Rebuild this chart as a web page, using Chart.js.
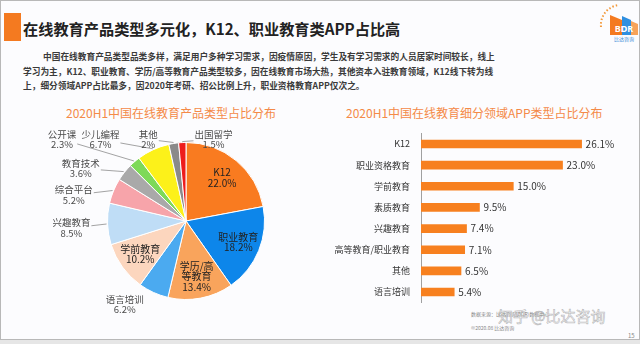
<!DOCTYPE html>
<html lang="zh">
  <head>
    <meta charset="utf-8">
    <title>在线教育产品类型</title>
    <script src="https://cdn.jsdelivr.net/npm/chart.js"></script>
    <style>
      body { margin: 0; width: 640px; height: 344px; background: #e6e6e6; overflow: hidden;
             font-family: 'Noto Sans CJK SC', 'Noto Sans', sans-serif; }
      .slide { position: absolute; left: 0; top: 0; width: 638px; height: 338px;
               background: #fcfcfe; border: 1px solid #b8b8b8; }
      .abs { position: absolute; white-space: nowrap; }
      .mark { left: 3px; top: 12px; width: 17px; height: 28px; background: #f47a20; }
      .title { left: 22px; top: 16px; font-size: 15.2px; font-weight: bold; color: #222; line-height: 22px; }
      .para { font-size: 8.7px; font-weight: bold; color: #3a3a3a; line-height: 14.5px; }
      .para div { text-align: justify; text-align-last: justify; }
      .sub { font-size: 12px; color: #f48a48; line-height: 14px; }
      .foot { font-size: 5px; color: #888; }
      .wm { font-size: 15px; color: rgba(255,255,255,0.6); -webkit-text-stroke: 0.6px rgba(120,120,120,0.55); }
    </style>
  </head>
  <body>
    <div class="slide">
      <div class="abs mark"></div>
      <div class="abs title">在线教育产品类型多元化，K12、职业教育类APP占比高</div>
      <div class="abs para" style="left:22px; top:49px; width:470px;">
        <div style="padding-left:20px;">中国在线教育产品类型品类多样，满足用户多种学习需求，因疫情原因，学生及有学习需求的人员居家时间较长，线上</div>
        <div>学习为主，K12、职业教育、学历/高等教育产品类型较多，因在线教育市场大热，其他资本入驻教育领域，K12线下转为线</div>
        <div style="text-align-last:left;">上，细分领域APP占比最多，因2020年考研、招公比例上升，职业资格教育APP仅次之。</div>
      </div>
      <div class="abs sub" style="left:65px; top:105px;">2020H1中国在线教育产品类型占比分布</div>
      <div class="abs sub" style="left:345px; top:105px;">2020H1中国在线教育细分领域APP类型占比分布</div>

      <svg class="abs" style="left:596px; top:0px;" width="44" height="46">
        <path d="M4 26 A 20 20 0 0 1 22 4" fill="none" stroke="#f39a3c" stroke-width="2" stroke-dasharray="1.5 2"/>
        <polygon points="13,14 25,19 25,34 13,34" fill="#f47a20"/>
        <polygon points="25,15 34,19 34,34 25,34" fill="#2f8fe0"/>
        <polygon points="34,20 41,23 41,34 34,34" fill="#f7a35a"/>
        <text x="27" y="31" font-size="9" font-weight="bold" fill="#fff" text-anchor="middle" font-family="Noto Sans">BDR</text>
        <text x="27" y="40" font-size="5" fill="#3a8ad8" text-anchor="middle">比达咨询</text>
      </svg>

      <div class="abs foot" style="left:470px; top:309px;">数据来源：比达咨询(BDR)数据中心</div>
      <div class="abs wm" style="left:497px; top:304px;">知乎 @比达咨询</div>
      <div class="abs foot" style="left:470px; top:323px;">©2020.08 比达咨询</div>
      <div class="abs foot" style="left:627px; top:330px; font-size:6px;">15</div>

      <div class="abs" style="left:0px; top:120px; width:320px; height:210px;"><canvas id="pieChart"></canvas></div>
      <div class="abs" style="left:320px; top:116px; width:300px; height:202px;"><canvas id="barChart"></canvas></div>
    </div>

    <script>
      // 左图：产品类型占比（%），从12点方向顺时针
      const pieLabels = ['K12', '职业教育', ['学历/高', '等教育'], '语言培训', '学前教育', '兴趣教育',
                         '综合平台', '教育技术', '公开课', '少儿编程', '其他', '出国留学'];
      const pieValues = [22.0, 18.2, 13.4, 6.2, 10.2, 8.5, 5.2, 3.6, 2.3, 6.7, 2, 1.5];
      const pieColors = ['#f97b20', '#0d86ea', '#f9a45c', '#4baaf0', '#fcd6be', '#bfddf6',
                         '#f7a4aa', '#a9a9a9', '#7ed958', '#fcf11a', '#8a8a8a', '#ee1c1c'];

      // 右图：细分领域APP类型占比（%）
      const barLabels = ['K12', '职业资格教育', '学前教育', '素质教育', '兴趣教育', '高等教育/职业教育', '其他', '语言培训'];
      const barValues = [26.1, 23.0, 15.0, 9.5, 7.4, 7.1, 6.5, 5.4];

      Chart.defaults.font.family = "'Noto Sans CJK SC', 'Noto Sans', sans-serif";
      Chart.defaults.animation = false;

      function fmt(v) {
        return (Number.isInteger(v) && v < 10 ? String(v) : v.toFixed(1)) + '%';
      }

      // 饼图外侧标签位置（相对圆心，单位为半径）
      const outsidePos = {
        3: {dx: -0.78, dy: 1.06, leader: false},
        5: {dx: -1.46, dy: 0.09},
        6: {dx: -1.43, dy: -0.33},
        7: {dx: -1.34, dy: -0.67},
        8: {dx: -1.58, dy: -1.04},
        9: {dx: -1.09, dy: -1.04},
        10: {dx: -0.48, dy: -1.04},
        11: {dx: 0.35, dy: -1.04}
      };

      const pieLabelPlugin = {
        id: 'pieLabels',
        afterDatasetsDraw(chart) {
          const ctx = chart.ctx;
          const meta = chart.getDatasetMeta(0);
          ctx.save();
          ctx.textAlign = 'center';
          ctx.textBaseline = 'middle';
          meta.data.forEach(function(arc, i) {
            const p = arc.getProps(['x', 'y', 'startAngle', 'endAngle', 'outerRadius']);
            const mid = (p.startAngle + p.endAngle) / 2;
            const R = p.outerRadius;
            const name = pieLabels[i];
            const lines = (Array.isArray(name) ? name : [name]).concat([fmt(pieValues[i])]);
            const lh = 10.5;
            let cx, cy;
            if (pieValues[i] >= 10) {
              cx = p.x + Math.cos(mid) * R * 0.72;
              cy = p.y + Math.sin(mid) * R * 0.72;
              ctx.font = '10px ' + Chart.defaults.font.family;
              ctx.fillStyle = '#222';
            } else {
              const o = outsidePos[i];
              cx = p.x + o.dx * R;
              cy = p.y + o.dy * R;
              ctx.font = '9.5px ' + Chart.defaults.font.family;
              ctx.fillStyle = '#4a4a4a';
              if (o.leader !== false) {
                let w = 0;
                lines.forEach(function(t) { w = Math.max(w, ctx.measureText(t).width); });
                const hw = w / 2 + 1, hh = lines.length * lh / 2;
                const ex = p.x + Math.cos(mid) * (R + 1);
                const ey = p.y + Math.sin(mid) * (R + 1);
                const vx = cx - ex, vy = cy - ey;
                // 线段与标签框的交点
                let t = 1;
                if (Math.abs(vx) > 0.001) t = Math.min(t, (Math.abs(vx) - hw) / Math.abs(vx));
                if (Math.abs(vy) > 0.001) t = Math.max(Math.min(1, (Math.abs(vy) - hh) / Math.abs(vy)), t);
                t = Math.max(0, Math.min(1, t));
                ctx.strokeStyle = '#8c8c8c';
                ctx.lineWidth = 0.8;
                ctx.beginPath();
                ctx.moveTo(ex, ey);
                ctx.lineTo(ex + vx * t, ey + vy * t);
                ctx.stroke();
              }
            }
            const y0 = cy - (lines.length - 1) * lh / 2;
            lines.forEach(function(t, k) { ctx.fillText(t, cx, y0 + k * lh); });
          });
          ctx.restore();
        }
      };

      new Chart(document.getElementById('pieChart'), {
        type: 'pie',
        data: {
          labels: pieLabels,
          datasets: [{
            data: pieValues,
            backgroundColor: pieColors,
            borderColor: '#ffffff',
            borderWidth: 1,
            hoverOffset: 0
          }]
        },
        options: {
          responsive: true,
          maintainAspectRatio: false,
          layout: { padding: { left: 106, right: 56, top: 21, bottom: 31 } },
          plugins: { legend: { display: false }, tooltip: { enabled: false } }
        },
        plugins: [pieLabelPlugin]
      });

      const barValuePlugin = {
        id: 'barValues',
        afterDatasetsDraw(chart) {
          const ctx = chart.ctx;
          ctx.save();
          ctx.font = '10px ' + Chart.defaults.font.family;
          ctx.fillStyle = '#333';
          ctx.textAlign = 'left';
          ctx.textBaseline = 'middle';
          chart.getDatasetMeta(0).data.forEach(function(bar, i) {
            ctx.fillText(fmt(barValues[i]), bar.x + 4, bar.y);
          });
          ctx.restore();
        }
      };

      new Chart(document.getElementById('barChart'), {
        type: 'bar',
        data: {
          labels: barLabels,
          datasets: [{
            data: barValues,
            backgroundColor: '#f7801f',
            barThickness: 8
          }]
        },
        options: {
          indexAxis: 'y',
          responsive: true,
          maintainAspectRatio: false,
          layout: { padding: 0 },
          scales: {
            x: { display: false, min: 0, max: 32.5 },
            y: {
              afterFit(scale) { scale.width = 100; },
              grid: { display: false, drawTicks: false },
              border: { display: true, color: '#a0a0a0', width: 1 },
              ticks: { padding: 11, color: '#333', font: { size: 9 } }
            }
          },
          plugins: { legend: { display: false }, tooltip: { enabled: false } }
        },
        plugins: [barValuePlugin]
      });
    </script>
  </body>
</html>
